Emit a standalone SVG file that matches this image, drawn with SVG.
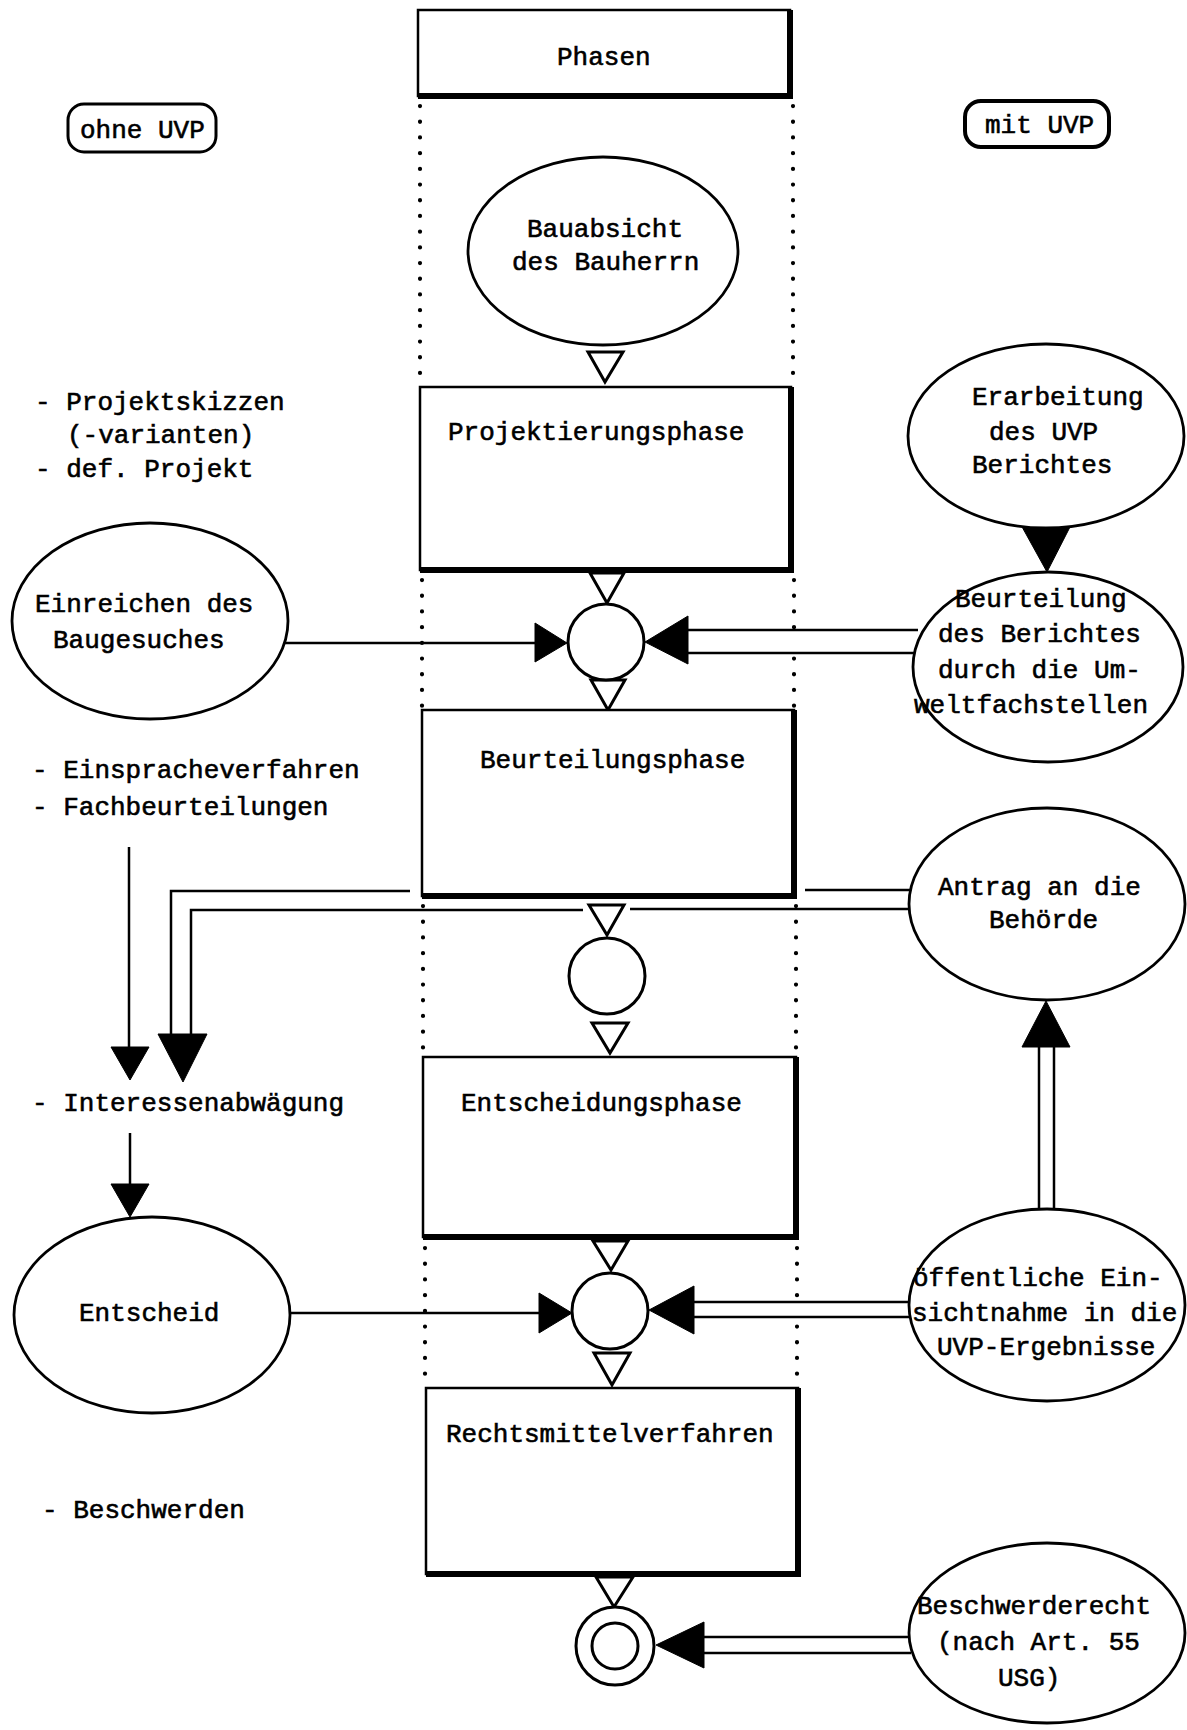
<svg xmlns="http://www.w3.org/2000/svg" width="1187" height="1730" viewBox="0 0 1187 1730">
<defs>
<style>
text { font-family: "Liberation Mono", "DejaVu Sans Mono", monospace; font-size: 26px; fill: #000; stroke: #000; stroke-width: 0.6; }
.box { fill: #fff; stroke: #000; stroke-width: 2.5; }
.shadow { fill: none; stroke: #000; stroke-width: 6; stroke-linejoin: miter; }
.ell { fill: #fff; stroke: #000; stroke-width: 2.8; }
.dot { fill: none; stroke: #000; stroke-width: 4.2; stroke-linecap: round; stroke-dasharray: 0.1 15.6; }
.ln { fill: none; stroke: #000; stroke-width: 2.5; }
.head { fill: #000; stroke: #000; stroke-width: 1; stroke-linejoin: miter; }
.tri { fill: #fff; stroke: #000; stroke-width: 3; stroke-linejoin: miter; }
.jn { fill: #fff; stroke: #000; stroke-width: 3; }
.tag { fill: #fff; stroke: #000; stroke-width: 3; }
.gap { fill: #fff; stroke: none; }
</style>
</defs>
<rect width="1187" height="1730" fill="#fff"/>

<g id="swimlane-dots">
  <line class="dot" x1="420" y1="106" x2="420" y2="384"/>
  <line class="dot" x1="793" y1="106" x2="793" y2="384"/>
  <line class="dot" x1="422" y1="580" x2="422" y2="706"/>
  <line class="dot" x1="794" y1="580" x2="794" y2="706"/>
  <line class="dot" x1="423" y1="906" x2="423" y2="1054"/>
  <line class="dot" x1="796" y1="906" x2="796" y2="1054"/>
  <line class="dot" x1="425" y1="1248" x2="425" y2="1385"/>
  <line class="dot" x1="797" y1="1248" x2="797" y2="1385"/>
</g>

<g id="connectors">
  <!-- flow triangles down the phase column -->
  <polygon class="tri" points="588,352 623,352 605,382"/>
  <polygon class="tri" points="590,573 624,573 607,603"/>
  <polygon class="tri" points="591,680 625,680 608,710"/>
  <polygon class="tri" points="589,905 624,905 607,935"/>
  <polygon class="tri" points="592,1023 628,1023 610,1053"/>
  <polygon class="tri" points="593,1241 628,1241 611,1270"/>
  <polygon class="tri" points="594,1353 630,1353 612,1385"/>
  <polygon class="tri" points="596,1577 633,1577 614,1607"/>

  <!-- Einreichen -> junction 1 -->
  <line class="ln" x1="285" y1="643" x2="537" y2="643"/>
  <polygon class="head" points="567,643 535,623 535,662"/>

  <!-- Beurteilung (UVP) -> junction 1, double shaft -->
  <rect class="gap" x="687" y="631" width="230" height="21"/>
  <line class="ln" x1="687" y1="630" x2="918" y2="630"/>
  <line class="ln" x1="687" y1="653" x2="916" y2="653"/>
  <polygon class="head" points="645,642 688,616 688,664"/>

  <!-- Erarbeitung -> Beurteilung -->
  <polygon class="head" points="1021,525 1071,525 1047,572"/>

  <!-- Antrag an die Behörde -> Interessenabwägung, double shaft -->
  <line class="ln" x1="910" y1="890" x2="805" y2="890"/>
  <polyline class="ln" points="410,891 171,891 171,1036"/>
  <line class="ln" x1="911" y1="909" x2="630" y2="909"/>
  <polyline class="ln" points="583,910 191,910 191,1036"/>
  <polygon class="head" points="158,1034 207,1034 183,1082"/>

  <!-- Einsprache / Fachbeurteilungen -> Interessenabwägung -->
  <line class="ln" x1="129" y1="847" x2="129" y2="1048"/>
  <polygon class="head" points="111,1047 149,1047 130,1080"/>

  <!-- Interessenabwägung -> Entscheid -->
  <line class="ln" x1="130" y1="1133" x2="130" y2="1185"/>
  <polygon class="head" points="111,1184 149,1184 130,1217"/>

  <!-- öffentliche Einsichtnahme -> Antrag, double shaft -->
  <rect class="gap" x="1040" y="1047" width="13" height="162"/>
  <line class="ln" x1="1039" y1="1046" x2="1039" y2="1210"/>
  <line class="ln" x1="1054" y1="1046" x2="1054" y2="1210"/>
  <polygon class="head" points="1046,1001 1022,1047 1070,1047"/>

  <!-- Entscheid -> junction 3 -->
  <line class="ln" x1="290" y1="1313" x2="541" y2="1313"/>
  <polygon class="head" points="572,1313 539,1293 539,1333"/>

  <!-- öffentliche Einsichtnahme -> junction 3, double shaft -->
  <rect class="gap" x="693" y="1303" width="218" height="13"/>
  <line class="ln" x1="693" y1="1302" x2="912" y2="1302"/>
  <line class="ln" x1="693" y1="1317" x2="911" y2="1317"/>
  <polygon class="head" points="649,1310 694,1286 694,1334"/>

  <!-- Beschwerderecht -> end junction, double shaft -->
  <rect class="gap" x="703" y="1638" width="210" height="14"/>
  <line class="ln" x1="703" y1="1637" x2="912" y2="1637"/>
  <line class="ln" x1="703" y1="1653" x2="911" y2="1653"/>
  <polygon class="head" points="656,1645 704,1622 704,1668"/>
</g>

<g id="tag-ohne-uvp">
  <rect class="tag" x="68" y="104" width="148" height="48" rx="16"/>
  <text x="80" y="138">ohne UVP</text>
</g>
<g id="tag-mit-uvp">
  <rect class="tag" x="965" y="101" width="144" height="46" rx="16" style="stroke-width:4"/>
  <text x="985" y="133">mit UVP</text>
</g>

<g id="phasen">
  <rect class="box" x="418" y="10" width="372" height="86"/>
  <polyline class="shadow" points="790,10 790,96 418,96"/>
  <text x="557" y="65">Phasen</text>
</g>

<g id="bauabsicht">
  <ellipse class="ell" cx="603" cy="251" rx="135" ry="94"/>
  <text x="527" y="237">Bauabsicht</text>
  <text x="512" y="270">des Bauherrn</text>
</g>

<g id="projektierungsphase">
  <rect class="box" x="420" y="387" width="371" height="183"/>
  <polyline class="shadow" points="791,387 791,570 420,570"/>
  <text x="448" y="440">Projektierungsphase</text>
</g>

<g id="beurteilungsphase">
  <rect class="box" x="422" y="710" width="372" height="186"/>
  <polyline class="shadow" points="794,710 794,896 422,896"/>
  <text x="480" y="768">Beurteilungsphase</text>
</g>

<g id="entscheidungsphase">
  <rect class="box" x="423" y="1057" width="373" height="180"/>
  <polyline class="shadow" points="796,1057 796,1237 423,1237"/>
  <text x="461" y="1111">Entscheidungsphase</text>
</g>

<g id="rechtsmittelverfahren">
  <rect class="box" x="426" y="1388" width="372" height="186"/>
  <polyline class="shadow" points="798,1388 798,1574 426,1574"/>
  <text x="446" y="1442">Rechtsmittelverfahren</text>
</g>

<g id="junction-1"><circle class="jn" cx="606" cy="642" r="38"/></g>
<g id="junction-2"><circle class="jn" cx="607" cy="976" r="38"/></g>
<g id="junction-3"><circle class="jn" cx="610" cy="1311" r="38"/></g>
<g id="junction-end">
  <circle class="jn" cx="615" cy="1646" r="39"/>
  <circle class="jn" cx="615" cy="1646" r="23"/>
</g>

<g id="einreichen">
  <ellipse class="ell" cx="150" cy="621" rx="138" ry="98"/>
  <text x="35" y="612">Einreichen des</text>
  <text x="53" y="648">Baugesuches</text>
</g>

<g id="entscheid">
  <ellipse class="ell" cx="152" cy="1315" rx="138" ry="98"/>
  <text x="79" y="1321">Entscheid</text>
</g>

<g id="erarbeitung">
  <ellipse class="ell" cx="1046" cy="436" rx="138" ry="92"/>
  <text x="972" y="405">Erarbeitung</text>
  <text x="989" y="440">des UVP</text>
  <text x="972" y="473">Berichtes</text>
</g>

<g id="beurteilung-umweltfachstellen">
  <ellipse class="ell" cx="1048" cy="667" rx="135" ry="95"/>
  <text x="955" y="607">Beurteilung</text>
  <text x="938" y="642">des Berichtes</text>
  <text x="938" y="678">durch die Um-</text>
  <text x="914" y="713">weltfachstellen</text>
</g>

<g id="antrag">
  <ellipse class="ell" cx="1047" cy="904" rx="138" ry="96"/>
  <text x="938" y="895">Antrag an die</text>
  <text x="989" y="928">Behörde</text>
</g>

<g id="oeffentliche-einsichtnahme">
  <ellipse class="ell" cx="1047" cy="1305" rx="138" ry="96"/>
  <text x="913" y="1286">öffentliche Ein-</text>
  <text x="912" y="1321">sichtnahme in die</text>
  <text x="937" y="1355">UVP-Ergebnisse</text>
</g>

<g id="beschwerderecht">
  <ellipse class="ell" cx="1047" cy="1633" rx="138" ry="90"/>
  <text x="917" y="1614">Beschwerderecht</text>
  <text x="937" y="1650">(nach Art. 55</text>
  <text x="998" y="1686">USG)</text>
</g>

<g id="side-notes">
  <text id="note-projekt-1" x="35" y="410">- Projektskizzen</text>
  <text id="note-projekt-2" x="67" y="443">(-varianten)</text>
  <text id="note-projekt-3" x="35" y="477">- def. Projekt</text>
  <text id="note-einsprache" x="32" y="778">- Einspracheverfahren</text>
  <text id="note-fach" x="32" y="815">- Fachbeurteilungen</text>
  <text id="note-interessen" x="32" y="1111">- Interessenabwägung</text>
  <text id="note-beschwerden" x="42" y="1518">- Beschwerden</text>
</g>
</svg>
